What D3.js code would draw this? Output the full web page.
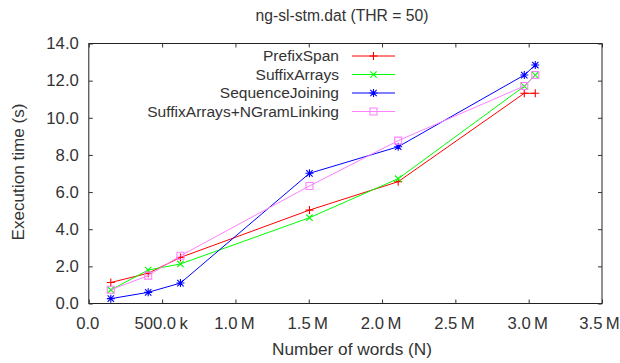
<!DOCTYPE html>
<html><head><meta charset="utf-8">
<script src="https://cdn.jsdelivr.net/npm/d3@7"></script>
<style>
html,body{margin:0;padding:0;background:#fff;}
svg{display:block;font-family:"Liberation Sans",Arial,sans-serif;}
</style></head>
<body><svg id="c" width="620" height="363"></svg>
<script>
const title = "ng-sl-stm.dat (THR = 50)";
const xLabel = "Number of words (N)";
const yLabel = "Execution time (s)";
const words = [150000, 405000, 625000, 1505000, 2110000, 2970000, 3045000];
const seriesNames = ["PrefixSpan", "SuffixArrays", "SequenceJoining", "SuffixArrays+NGramLinking"];
const prefixSpan = [1.13, 1.63, 2.48, 5.03, 6.56, 11.32, 11.32];
const suffixArrays = [0.73, 1.80, 2.13, 4.62, 6.72, 11.70, 12.30];
const sequenceJoining = [0.26, 0.60, 1.10, 7.01, 8.44, 12.30, 12.84];
const ngramLinking = [0.74, 1.50, 2.57, 6.33, 8.77, 11.71, 12.30];
const xTicks = [0, 500000, 1000000, 1500000, 2000000, 2500000, 3000000, 3500000];
const yTicks = [0, 2, 4, 6, 8, 10, 12, 14];
const colors = ["#ff0000", "#00ff00", "#0000ff", "#ff80ff"];
const markers = ["plus", "cross", "star", "square"];

const svg = d3.select("#c");
const L = 88.8, R = 602, T = 43.5, B = 303.5;
const x = d3.scaleLinear().domain([0, 3500000]).range([L, R]);
const y = d3.scaleLinear().domain([0, 14]).range([B, T]);
const textCol = "#333";

function fmtX(v){
  if (v === 0) return "0.0";
  if (v < 1e6) return (v/1000).toFixed(1) + "\u2009k";
  return (v/1e6).toFixed(1) + "\u2009M";
}
function fitSize(str, target){
  const t = svg.append("text").style("font-size", "20px").text(str);
  const w = t.node().getComputedTextLength();
  t.remove();
  return 20 * target / w;
}
const tickSize = fitSize("14.0", 32.5);
const legSize = fitSize("SuffixArrays+NGramLinking", 192);
const titleSize = fitSize(title, 173);
const xlSize = fitSize(xLabel, 160);
const ylSize = fitSize(yLabel, 137);

svg.append("rect").attr("x", L).attr("y", T).attr("width", R-L).attr("height", B-T)
  .attr("fill", "none").attr("stroke", "#222").attr("stroke-width", 1);

const gx = svg.append("g").attr("transform", `translate(0,${B})`)
  .call(d3.axisBottom(x).tickValues(xTicks).tickFormat(fmtX).tickSizeInner(-4).tickSizeOuter(0).tickPadding(14));
gx.selectAll("text").attr("dx", (d, i) => i === xTicks.length - 1 ? -3 : -1.5);
const gxt = svg.append("g").attr("transform", `translate(0,${T})`)
  .call(d3.axisTop(x).tickValues(xTicks).tickFormat("").tickSizeInner(-4).tickSizeOuter(0));
const gy = svg.append("g").attr("transform", `translate(${L},0)`)
  .call(d3.axisLeft(y).tickValues(yTicks).tickFormat(d3.format(".1f")).tickSizeInner(-4).tickSizeOuter(0).tickPadding(10));
const gyr = svg.append("g").attr("transform", `translate(${R},0)`)
  .call(d3.axisRight(y).tickValues(yTicks).tickFormat("").tickSizeInner(-4).tickSizeOuter(0));
[gx, gxt, gy, gyr].forEach(g => {
  g.select(".domain").remove();
  g.selectAll("line").attr("stroke", "#333");
  g.selectAll("text").attr("fill", textCol).style("font-size", tickSize + "px").style("font-family", "Liberation Sans, Arial, sans-serif");
});

svg.append("text").attr("x", 342).attr("y", 21).attr("text-anchor", "middle")
  .attr("fill", textCol).style("font-size", titleSize + "px").text(title);
svg.append("text").attr("x", 352).attr("y", 355).attr("text-anchor", "middle")
  .attr("fill", textCol).style("font-size", xlSize + "px").text(xLabel);
svg.append("text").attr("transform", `translate(24,${172}) rotate(-90)`).attr("text-anchor", "middle")
  .attr("fill", textCol).style("font-size", ylSize + "px").text(yLabel);

function drawMarker(g, type, cx, cy, col){
  const s = 4;
  const p = d3.path();
  if (type === "plus" || type === "star"){
    p.moveTo(cx - s, cy); p.lineTo(cx + s, cy);
    p.moveTo(cx, cy - s); p.lineTo(cx, cy + s);
  }
  if (type === "cross" || type === "star"){
    p.moveTo(cx - s*0.8, cy - s*0.8); p.lineTo(cx + s*0.8, cy + s*0.8);
    p.moveTo(cx - s*0.8, cy + s*0.8); p.lineTo(cx + s*0.8, cy - s*0.8);
  }
  if (type === "square"){
    p.rect(cx - 3.5, cy - 3.5, 7, 7);
  }
  g.append("path").attr("d", p.toString()).attr("fill", "none").attr("stroke", col).attr("stroke-width", 1.1);
}

const allSeries = [prefixSpan, suffixArrays, sequenceJoining, ngramLinking];
const line = d3.line().x(d => x(d[0])).y(d => y(d[1]));
allSeries.forEach((vals, i) => {
  const pts = words.map((w, j) => [w, vals[j]]);
  const g = svg.append("g");
  g.append("path").attr("d", line(pts)).attr("fill", "none").attr("stroke", colors[i]).attr("stroke-width", 1);
  pts.forEach(p => drawMarker(g, markers[i], x(p[0]), y(p[1]), colors[i]));
});

const legY = [56, 74.5, 93, 111.5];
seriesNames.forEach((n, i) => {
  const g = svg.append("g");
  g.append("text").attr("x", 339).attr("y", legY[i]).attr("dy", "0.35em").attr("text-anchor", "end")
    .attr("fill", textCol).style("font-size", legSize + "px").text(n);
  g.append("line").attr("x1", 352).attr("x2", 395).attr("y1", legY[i]).attr("y2", legY[i])
    .attr("stroke", colors[i]).attr("stroke-width", 1);
  drawMarker(g, markers[i], 373.5, legY[i], colors[i]);
});
</script>
</body></html>
